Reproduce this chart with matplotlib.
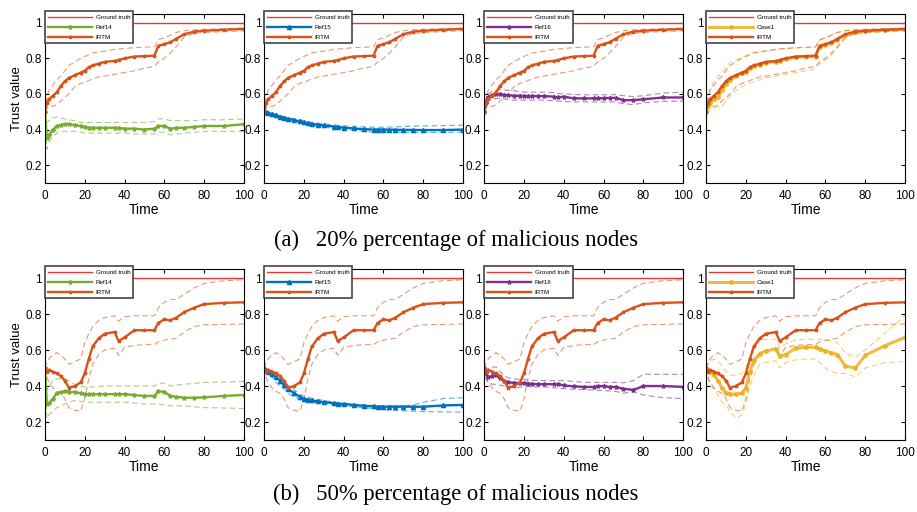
import matplotlib
matplotlib.use('Agg')
import matplotlib.pyplot as plt

plt.rcParams['font.family'] = ['Liberation Sans', 'DejaVu Sans']

# common time grid (values at these steps)
t = [0, 1, 2, 4, 6, 8, 10, 12, 15, 18, 20, 22, 24, 27, 30, 35, 37, 40, 45, 50,
     55, 57, 60, 63, 66, 70, 75, 80, 90, 100]

# ---- (a) 20% malicious nodes ----
irtm_a = [.50, .55, .57, .59, .61, .645, .67, .69, .705, .72, .73, .75, .76, .77, .78,
          .785, .79, .80, .81, .812, .815, .87, .88, .89, .91, .935, .95, .955, .96, .965]
irtm_a_hi = [.50, .58, .62, .65, .68, .70, .73, .76, .78, .80, .81, .82, .83, .835, .84,
             .85, .852, .855, .86, .862, .865, .905, .915, .93, .945, .955, .96, .963, .966, .97]
irtm_a_lo = [.50, .52, .53, .53, .54, .56, .58, .60, .64, .66, .665, .675, .685, .695, .70,
             .71, .715, .72, .73, .745, .755, .78, .80, .83, .865, .92, .94, .945, .95, .955]

ref14_a = [.50, .35, .37, .40, .42, .425, .43, .43, .425, .42, .415, .41, .41, .41, .41,
           .41, .41, .405, .405, .40, .405, .42, .42, .405, .41, .41, .415, .42, .42, .43]
ref14_a_hi = [.50, .44, .45, .465, .47, .465, .46, .455, .45, .44, .44, .44, .44, .44, .44,
              .44, .44, .44, .44, .44, .445, .46, .46, .45, .45, .45, .45, .455, .455, .46]
ref14_a_lo = [.50, .29, .33, .36, .38, .39, .39, .39, .39, .385, .38, .38, .38, .38, .38,
              .38, .38, .38, .375, .375, .375, .385, .385, .37, .375, .38, .385, .39, .39, .39]

ref15_a = [.50, .497, .494, .487, .48, .473, .466, .46, .453, .446, .44, .436, .432, .427, .423,
           .417, .414, .411, .406, .402, .40, .40, .40, .399, .399, .398, .398, .397, .397, .40]
ref15_a_hi = [.50, .498, .496, .49, .485, .478, .472, .467, .46, .454, .449, .445, .441, .436, .432,
              .426, .424, .421, .418, .415, .413, .413, .413, .414, .415, .417, .419, .42, .422, .425]
ref15_a_lo = [.50, .495, .49, .482, .474, .466, .459, .452, .444, .437, .432, .427, .423, .418, .413,
              .407, .404, .40, .395, .39, .386, .386, .385, .385, .385, .384, .384, .384, .384, .385]

ref16_a = [.50, .55, .58, .595, .60, .598, .595, .593, .59, .59, .588, .588, .588, .588, .588,
           .585, .58, .585, .575, .575, .575, .575, .576, .578, .578, .565, .565, .57, .58, .58]
ref16_a_hi = [.50, .58, .60, .615, .62, .625, .622, .62, .618, .614, .61, .61, .61, .61, .61,
              .607, .603, .60, .597, .595, .595, .595, .595, .595, .596, .59, .585, .59, .605, .61]
ref16_a_lo = [.50, .53, .56, .57, .575, .575, .572, .568, .565, .565, .565, .565, .565, .565, .565,
              .562, .56, .558, .555, .555, .555, .555, .555, .555, .555, .545, .54, .55, .558, .56]

case1_a = [.50, .53, .55, .57, .58, .62, .655, .68, .70, .715, .725, .745, .755, .765, .775,
           .78, .785, .795, .805, .808, .81, .865, .875, .885, .905, .93, .945, .952, .958, .962]
case1_a_hi = [.50, .59, .63, .67, .70, .72, .75, .775, .79, .805, .815, .825, .833, .838, .843,
              .85, .852, .855, .857, .86, .862, .90, .915, .93, .945, .955, .96, .962, .965, .968]
case1_a_lo = [.50, .50, .51, .52, .53, .53, .56, .59, .62, .64, .65, .66, .67, .68, .69,
              .70, .705, .71, .72, .73, .74, .77, .79, .82, .86, .915, .935, .945, .95, .955]

# ---- (b) 50% malicious nodes ----
irtm_b = [.50, .48, .49, .48, .47, .455, .43, .39, .40, .42, .47, .55, .62, .665, .69,
          .70, .65, .67, .71, .71, .71, .75, .77, .765, .78, .81, .835, .855, .862, .865]
irtm_b_hi = [.50, .53, .55, .575, .585, .57, .55, .52, .535, .55, .64, .69, .73, .765, .78,
             .79, .76, .785, .79, .79, .79, .835, .865, .88, .88, .91, .945, .97, .985, .99]
irtm_b_lo = [.50, .45, .42, .39, .37, .36, .33, .28, .265, .26, .33, .44, .52, .575, .60,
             .61, .57, .615, .625, .63, .63, .645, .655, .66, .665, .70, .73, .74, .742, .745]

ref14_b = [.50, .30, .305, .33, .36, .365, .37, .368, .365, .36, .355, .355, .355, .355, .355,
           .355, .355, .355, .35, .345, .345, .37, .368, .345, .34, .335, .335, .337, .345, .35]
ref14_b_hi = [.50, .38, .40, .43, .44, .44, .44, .43, .41, .40, .395, .395, .395, .398, .40,
              .40, .40, .40, .40, .40, .40, .415, .415, .40, .405, .41, .415, .42, .422, .425]
ref14_b_lo = [.50, .22, .24, .26, .28, .29, .30, .31, .32, .315, .31, .31, .31, .31, .31,
              .31, .31, .31, .305, .30, .30, .30, .295, .29, .29, .29, .285, .28, .278, .275]

ref15_b = [.50, .49, .48, .465, .448, .43, .405, .385, .36, .34, .33, .325, .32, .315, .31,
           .305, .302, .30, .295, .29, .287, .285, .285, .285, .285, .285, .285, .285, .292, .295]
ref15_b_hi = [.50, .495, .49, .48, .465, .445, .425, .405, .38, .355, .345, .338, .332, .325, .32,
              .31, .308, .305, .298, .295, .292, .29, .29, .29, .29, .29, .295, .31, .33, .335]
ref15_b_lo = [.50, .485, .47, .45, .42, .40, .385, .36, .34, .325, .318, .314, .31, .305, .302,
              .295, .292, .29, .285, .28, .275, .273, .27, .267, .265, .262, .26, .258, .256, .255]

ref16_b = [.50, .47, .45, .455, .462, .445, .43, .42, .418, .416, .415, .413, .412, .41, .41,
           .41, .41, .403, .398, .395, .395, .398, .40, .395, .395, .385, .378, .40, .40, .395]
ref16_b_hi = [.50, .49, .495, .505, .505, .48, .46, .445, .44, .436, .435, .433, .432, .431, .43,
              .43, .43, .43, .425, .42, .42, .42, .42, .42, .42, .418, .43, .465, .465, .465]
ref16_b_lo = [.50, .44, .42, .41, .41, .405, .40, .395, .39, .392, .40, .398, .396, .395, .395,
              .39, .388, .385, .382, .38, .378, .376, .375, .372, .37, .36, .368, .35, .335, .33]

case1_b = [.50, .49, .48, .46, .43, .39, .36, .355, .355, .36, .39, .48, .545, .58, .595,
           .605, .565, .575, .61, .615, .615, .605, .595, .585, .575, .51, .50, .57, .625, .67]
case1_b_hi = [.50, .52, .54, .55, .54, .51, .48, .46, .46, .47, .50, .56, .62, .645, .66,
              .66, .61, .635, .655, .66, .66, .66, .655, .65, .64, .585, .56, .60, .695, .79]
case1_b_lo = [.50, .44, .41, .38, .35, .31, .29, .26, .22, .24, .30, .40, .46, .52, .53,
              .54, .50, .53, .545, .55, .55, .53, .50, .48, .47, .47, .45, .50, .53, .535]

ground_truth = 1.0
names = ['Ref14', 'Ref15', 'Ref16', 'Case1']
colors = ['#77AC30', '#0072BD', '#7E2F8E', '#EDB120']
markers = ['*', '^', '*', 'o']
rows = [
    ('(a)   20% percentage of malicious nodes', (irtm_a, irtm_a_hi, irtm_a_lo),
     [(ref14_a, ref14_a_hi, ref14_a_lo), (ref15_a, ref15_a_hi, ref15_a_lo),
      (ref16_a, ref16_a_hi, ref16_a_lo), (case1_a, case1_a_hi, case1_a_lo)]),
    ('(b)   50% percentage of malicious nodes', (irtm_b, irtm_b_hi, irtm_b_lo),
     [(ref14_b, ref14_b_hi, ref14_b_lo), (ref15_b, ref15_b_hi, ref15_b_lo),
      (ref16_b, ref16_b_hi, ref16_b_lo), (case1_b, case1_b_hi, case1_b_lo)]),
]

irtm_c = '#D95319'
gt_c = '#E53A3A'

fig = plt.figure(figsize=(9.17, 5.12), dpi=100)
lefts = [0.049, 0.288, 0.528, 0.770]
row_pos = [(0.6426, 0.3305), (0.1406, 0.334)]
cap_y = [0.531, 0.035]

for r, (caption, irtm, others) in enumerate(rows):
    bottom, height = row_pos[r]
    for c in range(4):
        ax = fig.add_axes([lefts[c], bottom, 0.217, height])
        mean, hi, lo = others[c]
        col = colors[c]
        gt, = ax.plot([0, 100], [ground_truth, ground_truth], color=gt_c, lw=1.0)
        ax.plot(t, hi, '--', color=col, lw=0.8, alpha=0.6, dashes=(5, 3))
        ax.plot(t, lo, '--', color=col, lw=0.8, alpha=0.6, dashes=(5, 3))
        ax.plot(t, irtm[1], '--', color=irtm_c, lw=0.8, alpha=0.6, dashes=(5, 3))
        ax.plot(t, irtm[2], '--', color=irtm_c, lw=0.8, alpha=0.6, dashes=(5, 3))
        if names[c] == 'Case1':
            oth, = ax.plot(t, mean, color=col, lw=2.2, alpha=0.85, marker=markers[c], ms=2.5)
        else:
            oth, = ax.plot(t, mean, color=col, lw=1.7, marker=markers[c], ms=3)
        ir, = ax.plot(t, irtm[0], color=irtm_c, lw=1.7, marker='*', ms=2.5)

        ax.set_xlim(0, 100)
        ax.set_ylim(0.1, 1.05)
        ax.set_xticks([0, 20, 40, 60, 80, 100])
        ax.set_yticks([0.2, 0.4, 0.6, 0.8, 1.0])
        ax.set_yticklabels(['0.2', '0.4', '0.6', '0.8', '1'])
        ax.tick_params(direction='in', length=3, width=0.8, labelsize=8.5,
                       top=True, right=True, pad=2)
        ax.tick_params(axis='x', pad=5)
        for s in ax.spines.values():
            s.set_linewidth(0.8)
        ax.set_xlabel('Time', fontsize=10, labelpad=1)
        if c == 0:
            ax.set_ylabel('Trust value', fontsize=9.5, labelpad=2)
        leg = ax.legend([gt, oth, ir], ['Ground truth', names[c], 'IRTM'],
                        loc='upper left', bbox_to_anchor=(0, 1.015),
                        borderaxespad=0, fontsize=4.5, fancybox=False,
                        handlelength=7, framealpha=1, borderpad=0.5,
                        labelspacing=0.75, handletextpad=0.6)
        leg.get_frame().set_edgecolor('#444444')
        leg.get_frame().set_linewidth(1.2)
    fig.text(0.497, cap_y[r], caption, ha='center', va='center',
             fontsize=16.3, family=['Liberation Serif', 'DejaVu Serif'])

plt.savefig('out.png', dpi=100)
plt.close()
